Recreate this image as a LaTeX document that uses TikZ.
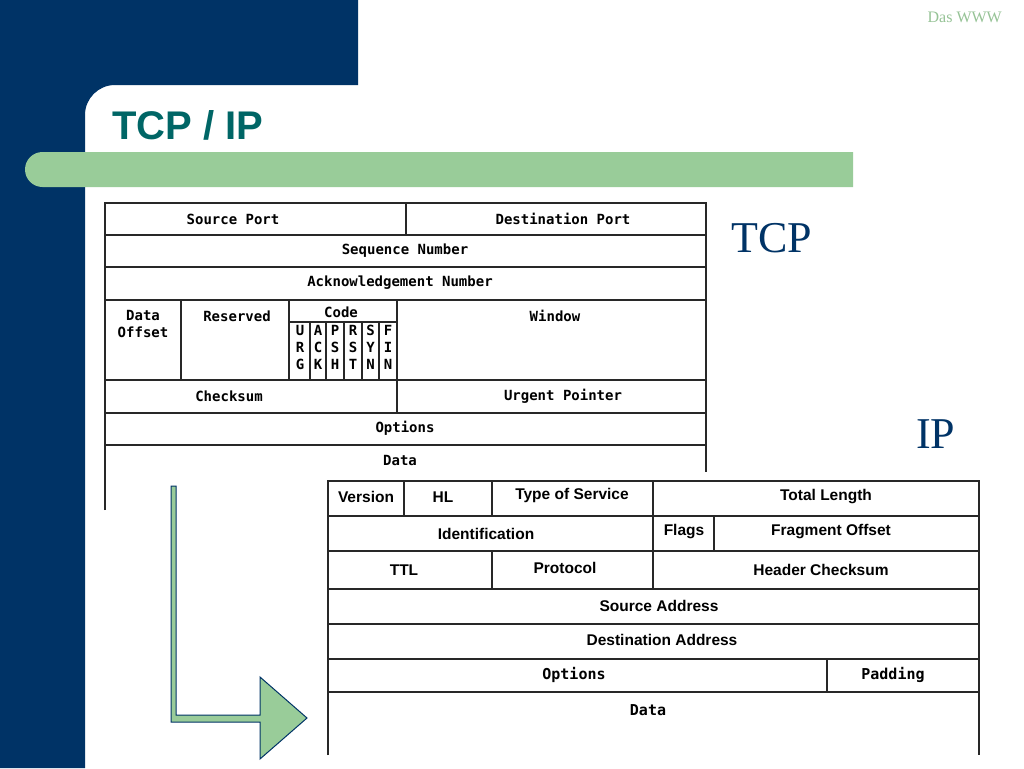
\documentclass[tikz,border=0pt]{standalone}
\usepackage{fontspec}
\setmainfont{Liberation Serif}
\newfontfamily\sansfont{Liberation Sans}
\newfontfamily\monofont{DejaVu Sans Mono}
\definecolor{navy}{RGB}{0,51,102}
\definecolor{barGreen}{RGB}{153,204,153}
\definecolor{teal}{RGB}{0,102,102}
\definecolor{lightGreen}{RGB}{150,195,150}
\definecolor{gridline}{RGB}{40,40,40}
\begin{document}
\begin{tikzpicture}[x=1pt,y=-1pt,
  grid/.style={draw=gridline,line width=1.4pt},
  tcptext/.style={font=\monofont\bfseries\fontsize{14}{14}\selectfont,inner sep=0pt,text=black},
  flagtext/.style={font=\monofont\bfseries\fontsize{14}{17}\selectfont,inner sep=0pt,text=black,align=center},
  iptext/.style={font=\sansfont\bfseries\fontsize{15.5}{15.5}\selectfont,inner sep=0pt,text=black},
  ipmono/.style={font=\monofont\bfseries\fontsize{15}{15}\selectfont,inner sep=0pt,text=black},
  biglabel/.style={font=\fontsize{44}{44}\selectfont,text=navy,inner sep=0pt,anchor=base west}]
\useasboundingbox (0,0) rectangle (1024,768);
\fill[white] (0,0) rectangle (1024,768);
% navy background
\fill[navy] (0,0) -- (358,0) -- (358,85) -- (115,85) arc[start angle=270,end angle=180,radius=30] -- (85,768) -- (0,768) -- cycle;
% green bar
\fill[barGreen] (853,152) -- (853,187) -- (42.5,187) arc[start angle=90,end angle=270,radius=17.5] -- cycle;
% title
\node[font=\sansfont\bfseries\fontsize{40}{40}\selectfont,text=teal,inner sep=0pt,anchor=base west] (title) at (112,139) {TCP / IP};
\node[font=\fontsize{16}{16}\selectfont,text=lightGreen,inner sep=0pt,anchor=base east] (das) at (1002,23) {Das WWW};
\node[biglabel] (tcplabel) at (731,252) {TCP};
\node[biglabel] (iplabel) at (916,448) {IP};

% ---------- TCP table ----------
\draw[grid] (105,510) -- (105,203) -- (706,203) -- (706,472);
\foreach \y in {235,267,300,380,413,445} \draw[grid] (105,\y) -- (706,\y);
\draw[grid] (406,203) -- (406,235);
\foreach \x in {181,289,397} \draw[grid] (\x,300) -- (\x,380);
\draw[grid] (289,322) -- (397,322);
\foreach \x in {310,326,344,362,379} \draw[grid] (\x,322) -- (\x,380);
\draw[grid] (397,380) -- (397,413);

\node[tcptext] (srcport) at (233,219) {Source Port};
\node[tcptext] (dstport) at (563,219) {Destination Port};
\node[tcptext] (seq) at (405,251) {Sequence Number};
\node[tcptext] (ack) at (400,283) {Acknowledgement Number};
\node[flagtext,anchor=north] (doff) at (143,310) {Data\\Offset};
\node[tcptext] (reserved) at (237,316) {Reserved};
\node[tcptext] (code) at (341,312) {Code};
\node[tcptext] (window) at (555,316) {Window};
\node[flagtext,anchor=north] (urg) at (300,325) {U\\R\\G};
\node[flagtext,anchor=north] (ackf) at (318,325) {A\\C\\K};
\node[flagtext,anchor=north] (psh) at (335,325) {P\\S\\H};
\node[flagtext,anchor=north] (rst) at (353,325) {R\\S\\T};
\node[flagtext,anchor=north] (syn) at (370.5,325) {S\\Y\\N};
\node[flagtext,anchor=north] (fin) at (388,325) {F\\I\\N};
\node[tcptext] (checksum) at (229,396) {Checksum};
\node[tcptext] (urgent) at (563,396) {Urgent Pointer};
\node[tcptext] (options) at (405,428) {Options};
\node[tcptext] (data) at (400,460) {Data};

% ---------- IP table ----------
\fill[white] (312,472) rectangle (990,768);
\draw[grid] (328,755) -- (328,481) -- (979,481) -- (979,755);
\foreach \y in {516,551,589,624,659,692} \draw[grid] (328,\y) -- (979,\y);
\foreach \x in {404,492,653} \draw[grid] (\x,481) -- (\x,516);
\foreach \x in {653,714} \draw[grid] (\x,516) -- (\x,551);
\foreach \x in {492,653} \draw[grid] (\x,551) -- (\x,589);
\draw[grid] (827,659) -- (827,692);

\node[iptext] (version) at (366,497) {Version};
\node[iptext] (hl) at (443,497) {HL};
\node[iptext] (tos) at (572,495) {Type of Service};
\node[iptext] (totlen) at (826,497) {Total Length};
\node[iptext] (ident) at (486,534) {Identification};
\node[iptext] (flags) at (684,532) {Flags};
\node[iptext] (fragoff) at (831,532) {Fragment Offset};
\node[iptext] (ttl) at (404,570) {TTL};
\node[iptext] (proto) at (565,568) {Protocol};
\node[iptext] (hdrck) at (821,570) {Header Checksum};
\node[iptext] (srcaddr) at (659,606) {Source Address};
\node[iptext] (dstaddr) at (662,640) {Destination Address};
\node[ipmono] (ipopt) at (574,675) {Options};
\node[ipmono] (pad) at (893,675) {Padding};
\node[ipmono] (ipdata) at (648,710) {Data};

% ---------- bent arrow ----------
\draw[fill=barGreen,draw=navy,line width=1pt,line join=miter]
  (171,486) -- (176,486) -- (176,715) -- (260,715) -- (260,677) -- (307,718)
  -- (260,759) -- (260,722) -- (171,722) -- cycle;
\end{tikzpicture}
\end{document}
